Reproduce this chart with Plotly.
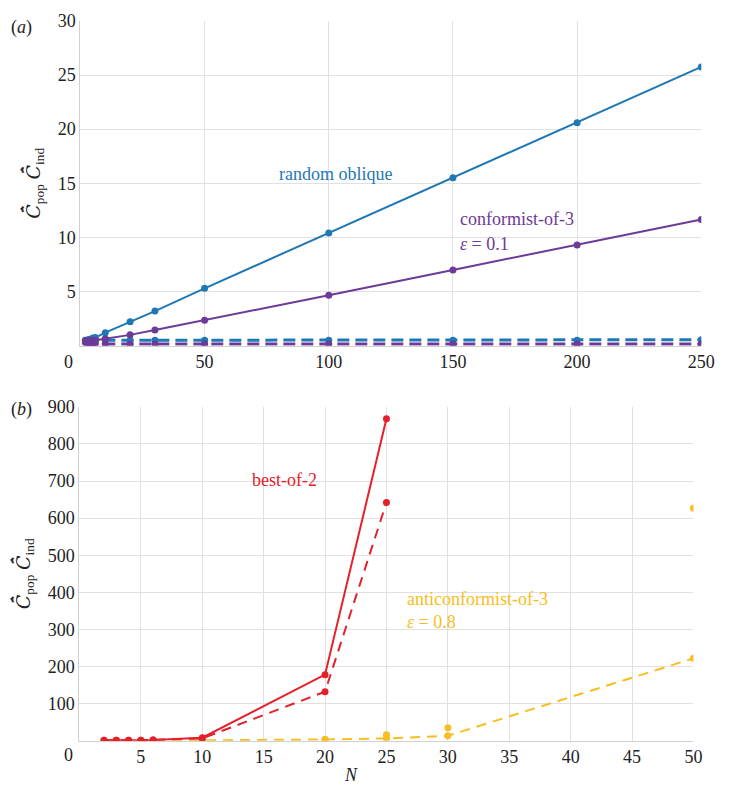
import plotly.graph_objects as go

# ---------------- data ----------------
N_a = [2, 3, 4, 5, 6, 10, 20, 30, 50, 100, 150, 200, 250]
random_oblique_solid = [0.5, 0.55, 0.6, 0.7, 0.75, 1.2, 2.2, 3.2, 5.3, 10.4, 15.5, 20.6, 25.75]
random_oblique_dashed = [0.45, 0.5, 0.5, 0.5, 0.5, 0.5, 0.5, 0.5, 0.5, 0.5, 0.5, 0.5, 0.55]
conformist_solid = [0.45, 0.45, 0.5, 0.5, 0.5, 0.65, 1.0, 1.45, 2.35, 4.65, 7.0, 9.3, 11.65]
conformist_dashed = [0.3, 0.25, 0.2, 0.2, 0.2, 0.15, 0.15, 0.15, 0.15, 0.15, 0.15, 0.15, 0.15]

N_best = [2, 3, 4, 5, 6, 10, 20, 25]
best_solid = [1, 1, 1, 1, 2, 8, 178, 868]
best_dashed = [1, 1, 1, 1, 2, 6, 132, 642]

N_anti = [2, 3, 4, 5, 6, 10, 20, 25, 30, 50]
anti_dashed = [0, 0, 0, 0, 0, 1, 3, 6, 13, 222]
N_anti_pts = [10, 20, 25, 30, 50]
anti_solid_pts = [1, 4, 16, 35, 627]

xticks_a = [50, 100, 150, 200, 250]
yticks_a = [5, 10, 15, 20, 25, 30]
xticks_b = [5, 10, 15, 20, 25, 30, 35, 40, 45, 50]
yticks_b = [100, 200, 300, 400, 500, 600, 700, 800, 900]

BLUE = "#1f77b4"
PURPLE = "#6c3a98"
RED = "#e4202a"
YELLOW = "#f7bd22"
FONT = "Liberation Serif, Times New Roman, DejaVu Serif, serif"
W, H = 730, 790


def fx(x):
    return x / W


def fy(y):
    return 1 - y / H


fig = go.Figure()


def add(x, y, color, dash, xa, ya, width=2, mode="lines+markers", msize=7):
    fig.add_trace(go.Scatter(
        x=x, y=y, mode=mode, xaxis=xa, yaxis=ya,
        line=dict(color=color, width=width, dash=dash),
        marker=dict(color=color, size=msize), showlegend=False))


# panel a
add(N_a, random_oblique_dashed, BLUE, "12px,6px", "x", "y", width=3)
add(N_a, conformist_dashed, PURPLE, "12px,6px", "x", "y", width=3)
add(N_a, random_oblique_solid, BLUE, "solid", "x", "y")
add(N_a, conformist_solid, PURPLE, "solid", "x", "y")

# panel b
add(N_anti, anti_dashed, YELLOW, "10px,7px", "x2", "y2")
add(N_anti_pts, anti_solid_pts, YELLOW, "solid", "x2", "y2", mode="markers")
add(N_best, best_dashed, RED, "10px,7px", "x2", "y2")
add(N_best, best_solid, RED, "solid", "x2", "y2")

axis_common = dict(
    showgrid=True, gridcolor="#e1e1e1", gridwidth=1,
    showline=True, linecolor="#d0d0d0", linewidth=1, mirror=False,
    zeroline=False, ticks="", tickfont=dict(family=FONT, size=18, color="#222"),
)

C_HAT = "<span style='font-family:DejaVu Serif'><i>C\u0304\u0302</i></span>"
ytitle = C_HAT + "<sub>pop</sub> " + C_HAT + "<sub>ind</sub>"

fig.update_layout(
    width=W, height=H, margin=dict(l=0, r=0, t=0, b=0),
    paper_bgcolor="white", plot_bgcolor="white",
    font=dict(family=FONT, size=18, color="#222"),
    xaxis=dict(axis_common, domain=[fx(82), fx(715)], range=[0, 250],
               tickvals=xticks_a, anchor="y"),
    yaxis=dict(axis_common, domain=[fy(340), fy(11)], range=[0, 30],
               tickvals=yticks_a, anchor="x",
               title=dict(text=ytitle, font=dict(family=FONT, size=19), standoff=12)),
    xaxis2=dict(axis_common, domain=[fx(81), fx(707)], range=[0, 50],
                tickvals=xticks_b, anchor="y2"),
    yaxis2=dict(axis_common, domain=[fy(740), fy(402)], range=[0, 900],
                tickvals=yticks_b, anchor="x2",
                title=dict(text=ytitle, font=dict(family=FONT, size=19), standoff=12)),
)

annots = [
    ("(<i>a</i>)", 22, 18, "#222", "center"),
    ("(<i>b</i>)", 22, 405, "#222", "center"),
    ("0", 70, 357, "#222", "center"),
    ("0", 70, 755, "#222", "center"),
    ("<i>N</i>", 358, 775, "#222", "center"),
    ("random oblique", 282, 166, BLUE, "left"),
    ("conformist-of-3", 467, 212, PURPLE, "left"),
    ("<i>\u03b5</i> = 0.1", 467, 237, PURPLE, "left"),
    ("best-of-2", 255, 476, RED, "left"),
    ("anticonformist-of-3", 413, 597, YELLOW, "left"),
    ("<i>\u03b5</i> = 0.8", 413, 620, YELLOW, "left"),
]
for text, x, y, c, anc in annots:
    fig.add_annotation(text=text, x=fx(x), y=fy(y), xref="paper", yref="paper",
                       showarrow=False, xanchor=anc, yanchor="middle",
                       font=dict(family=FONT, size=18, color=c))

fig.write_html("out.html",
               config={"displayModeBar": False},
               post_script="document.body.style.margin='0px';"
                           "document.body.style.overflow='hidden';")
